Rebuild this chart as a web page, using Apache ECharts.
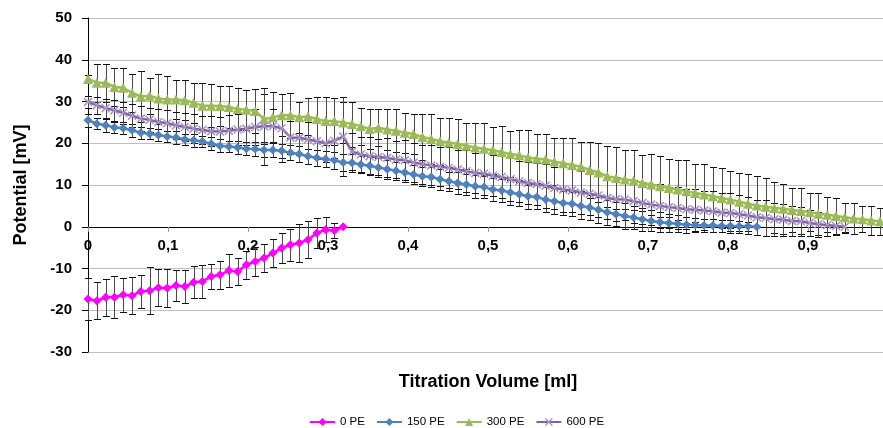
<!DOCTYPE html>
<html>
<head>
<meta charset="utf-8">
<script src="https://cdn.jsdelivr.net/npm/echarts@6/dist/echarts.min.js"></script>
<style>
html,body{margin:0;padding:0;background:#fff;}
#chart{width:883px;height:428px;}
</style>
</head>
<body>
<div id="chart"></div>
<script>
// Titration volume for each measurement step (ml)
const volume = [0,0.011,0.022,0.033,0.044,0.055,0.066,0.077,0.088,0.099,0.11,0.121,0.132,0.143,0.154,0.165,0.176,0.187,0.198,0.209,0.22,0.231,0.242,0.253,0.264,0.275,0.286,0.297,0.308,0.319,0.33,0.341,0.352,0.363,0.374,0.385,0.396,0.407,0.418,0.429,0.44,0.451,0.462,0.473,0.484,0.495,0.506,0.517,0.528,0.539,0.55,0.561,0.572,0.583,0.594,0.605,0.616,0.627,0.638,0.649,0.66,0.671,0.682,0.693,0.704,0.715,0.726,0.737,0.748,0.759,0.77,0.781,0.792,0.803,0.814,0.825,0.836,0.847,0.858,0.869,0.88,0.891,0.902,0.913,0.924,0.935,0.946,0.957,0.968,0.979,0.99];

const seriesNames = ['0 PE', '150 PE', '300 PE', '600 PE'];

const pe0 = [-17.3,-17.7,-16.9,-16.9,-16.3,-16.5,-15.5,-15.3,-14.6,-14.7,-14.1,-14.3,-13.3,-13.1,-11.9,-11.5,-10.5,-10.7,-9.1,-8.3,-7.5,-6.3,-5.1,-4.3,-3.9,-3.1,-1.5,-0.7,-0.9,0];
const pe0Err = [5,4.5,4.5,5,4,4.5,4,5.7,4.5,4.5,3.8,4,3.8,3.9,3,3.3,4,3.3,3.3,3.5,3.4,3.3,3.5,3.8,4.5,4.5,3.5,3,1.9,0];

const pe150 = [25.5,24.7,24.3,23.8,23.6,23.1,22.5,22.3,22.0,21.6,21.4,20.9,20.7,20.4,19.9,19.4,19.2,19.0,18.7,
  18.6,18.4,18.4,18.2,17.7,17.4,16.9,16.5,16.2,15.9,15.4,15.3,14.9,14.6,14.2,13.8,13.4,13.0,12.5,12.1,
  11.9,11.4,10.9,10.5,10.1,9.7,9.5,8.9,8.7,8.2,7.8,7.3,7.1,6.5,6.1,5.7,5.5,5.0,4.6,4.1,
  3.5,3.0,2.6,2.2,1.8,1.4,1.1,0.9,0.7,0.5,0.4,0.3,0.3,0.2,0.2,0.1,0.1,0.0];
const pe150Err = [1.5,1.4,1.5,1.3,1.4,1.5,1.4,1.3,1.5,1.4,1.6,1.4,1.5,1.4,1.6,1.5,1.4,1.6,1.5,
  1.6,1.8,1.7,1.7,1.8,1.9,1.8,2.0,1.9,2.1,2.0,2.2,2.1,2.0,2.2,2.3,2.1,2.4,2.2,2.3,
  2.4,2.5,2.3,2.6,2.5,2.7,2.6,2.8,2.7,2.9,2.8,3.0,2.9,3.0,3.1,2.9,3.0,3.2,3.0,3.1,
  3.0,2.9,3.1,2.8,2.7,2.5,2.4,2.2,2.0,1.9,1.7,1.6,1.5,1.4,1.3,1.2,1.0,0];

const pe300 = [35.4,34.5,34.5,33.5,33.3,32.1,31.2,31.4,30.7,30.5,30.5,30.3,29.7,29.0,29.0,28.9,28.7,28.2,28.0,
  27.7,25.8,26.2,26.7,26.7,26.2,26.4,25.8,25.3,25.3,25.0,24.6,24.1,23.4,23.7,23.3,23.0,22.5,22.2,
  21.5,21.0,20.5,20.2,19.8,19.4,19.0,18.7,18.3,17.9,17.4,17.1,16.6,16.3,16.1,15.6,15.2,14.8,14.4,13.6,13.0,
  12.1,11.7,11.3,11.1,10.5,10.1,9.7,9.3,8.9,8.5,8.1,7.7,7.3,6.9,6.5,6.0,5.5,5.1,4.8,
  4.5,4.3,4.0,3.8,3.5,3.1,2.9,2.6,2.3,2.0,1.8,1.5,1.3];
const pe300Err = [1,4.6,4.6,4.5,4.7,4.6,6.0,4.3,6.0,5.6,4.6,4.8,4.8,5.5,5.1,4.7,5.1,5.1,4.8,
  5.2,6.0,6.0,5.0,5.4,3.8,4.5,5.3,5.8,5.6,5.0,5.4,4.4,4.8,4.4,4.8,5.1,4.8,4.7,5.4,
  5.9,5.6,5.9,6.0,5.5,5.9,6.2,5.6,6.2,5.5,6.0,6.5,5.8,6.0,5.7,6.1,6.5,5.8,6.6,7.1,
  7.3,7.4,7.0,7.2,6.8,7.4,7.3,6.9,7.2,7.6,7.0,7.4,7.0,7.2,6.8,6.9,7.2,7.0,6.9,
  6.1,6.0,5.3,5.5,4.6,5.0,4.2,4.3,3.5,3.8,3.1,3.4,3.2];

const pe600 = [29.9,29.1,28.4,27.9,27.3,26.6,25.9,25.6,25.1,24.8,24.3,23.9,23.5,23.2,22.9,22.8,23.0,23.3,23.5,23.9,24.1,24.1,23.6,
  21.4,21.3,20.9,20.5,20.0,20.6,21.6,18.0,17.3,16.9,16.7,16.5,16.1,15.9,15.4,15.0,
  14.7,14.4,14.1,13.7,13.3,12.9,12.7,12.2,11.9,11.4,10.9,10.5,10.2,9.8,9.3,8.9,8.7,8.2,7.9,7.5,
  6.9,6.6,6.5,6.1,5.7,5.3,5.0,4.7,4.5,4.2,4.1,3.9,3.7,3.4,3.3,3.0,2.7,2.3,2.1,1.8,1.7,1.4,1.3,0.9,0.6,0.4,0.2,0.0];
const pe600Err = [1.5,2.0,2.3,2.5,2.6,2.8,3.0,2.9,3.2,3.1,3.3,3.4,3.5,3.3,3.6,3.5,3.8,3.6,3.9,4.2,9.2,4.0,8.2,
  4.0,4.2,4.1,4.3,4.4,4.2,9.5,4.5,4.3,4.6,4.4,4.7,4.5,4.8,4.6,4.7,
  4.8,4.6,4.9,4.7,5.0,4.8,5.1,4.9,5.0,5.2,4.9,5.1,5.0,5.2,5.0,5.3,5.1,5.2,5.0,5.2,
  5.1,5.3,5.0,5.2,5.1,5.0,5.2,4.9,5.1,4.8,5.0,4.7,4.9,4.6,4.7,4.5,4.4,4.2,4.3,4.0,3.8,3.6,3.5,3.2,3.0,2.6,2.2,1.5];

const yTicks = [-30,-20,-10,0,10,20,30,40,50];
const xTicks = [0,0.1,0.2,0.3,0.4,0.5,0.6,0.7,0.8,0.9];

const colors = ['#FF00FF', '#4F81BD', '#9BBB59', '#8064A2'];
const values = [pe0, pe150, pe300, pe600];
const errors = [pe0Err, pe150Err, pe300Err, pe600Err];
const symbols = ['diamond', 'diamond', 'triangle',
  'path://M0,1.2L1.2,0L5,3.8L8.8,0L10,1.2L6.2,5L10,8.8L8.8,10L5,6.2L1.2,10L0,8.8L3.8,5Z'];
const symbolSizes = [9, 9, 10, 9];
const symbolColors = ['#FF00FF', '#4F81BD', '#9BBB59', '#A693C8'];

// plot area (pixels)
const GRID_TOP = 18, GRID_BOTTOM = 76, CHART_H = 428;
const yMin = yTicks[0], yMax = yTicks[yTicks.length - 1];
const plotH = CHART_H - GRID_TOP - GRID_BOTTOM;
// move the x axis up so it sits on the 0 line (Excel style crossing)
const xAxisOffset = -plotH * (0 - yMin) / (yMax - yMin);

function errRender(params, api) {
  const x = api.value(0), y = api.value(1), e = api.value(2);
  if (!e) return null;
  const t = api.coord([x, y + e]);
  const b = api.coord([x, y - e]);
  const cx = Math.round(t[0]) + 0.5;
  const ty = Math.round(t[1]) + 0.5, by = Math.round(b[1]) + 0.5;
  const w = 3.5;
  return {
    type: 'group',
    children: [
      {type: 'line', shape: {x1: cx, y1: ty, x2: cx, y2: by}, style: {stroke: '#4a4a4a', lineWidth: 1}},
      {type: 'line', shape: {x1: cx - w, y1: ty, x2: cx + w, y2: ty}, style: {stroke: '#111111', lineWidth: 1}},
      {type: 'line', shape: {x1: cx - w, y1: by, x2: cx + w, y2: by}, style: {stroke: '#111111', lineWidth: 1}}
    ]
  };
}

const series = [];
seriesNames.forEach((name, k) => {
  series.push({
    name: 'err' + k,
    type: 'custom',
    renderItem: errRender,
    encode: {x: 0, y: 1},
    data: values[k].map((v, i) => [volume[i], v, errors[k][i]]),
    z: 1,
    silent: true
  });
});
seriesNames.forEach((name, k) => {
  series.push({
    name: name,
    type: 'line',
    data: values[k].map((v, i) => [volume[i], v]),
    symbol: symbols[k],
    symbolSize: symbolSizes[k],
    showAllSymbol: true,
    color: colors[k],
    lineStyle: {color: colors[k], width: 2.5},
    itemStyle: {color: symbolColors[k]},
    z: 2 + k
  });
});

const chart = echarts.init(document.getElementById('chart'));
const bold = {fontFamily: 'Liberation Sans, Arial, sans-serif', fontWeight: 'bold', color: '#000'};
chart.setOption({
  animation: false,
  backgroundColor: '#fff',
  grid: {left: 88, right: -5, top: GRID_TOP, bottom: GRID_BOTTOM, containLabel: false, outerBoundsMode: 'none'},
  legend: {
    data: seriesNames,
    left: 304, top: 411,
    itemWidth: 25, itemHeight: 10, itemGap: 11,
    textStyle: {fontFamily: 'Liberation Sans, Arial, sans-serif', fontSize: 11.5, color: '#000'}
  },
  xAxis: {
    type: 'value', min: 0, max: 1, interval: 0.1,
    position: 'bottom', offset: xAxisOffset,
    name: 'Titration Volume [ml]', nameLocation: 'middle', nameGap: 146,
    nameTextStyle: Object.assign({fontSize: 18}, bold),
    axisLine: {onZero: false, lineStyle: {color: '#000', width: 1}},
    axisTick: {show: true, length: 5, lineStyle: {color: '#999'}},
    splitLine: {show: false},
    axisLabel: Object.assign({
      fontSize: 15, margin: 12, showMaxLabel: false,
      formatter: v => xTicks.includes(Math.round(v * 10) / 10) ? (v === 0 ? '0' : (Math.round(v * 10) / 10).toFixed(1).replace('.', ',')) : ''
    }, bold)
  },
  yAxis: {
    type: 'value', min: yMin, max: yMax, interval: 10,
    name: 'Potential [mV]', nameLocation: 'middle', nameGap: 58, nameRotate: 90,
    nameTextStyle: Object.assign({fontSize: 18}, bold),
    axisLine: {show: true, onZero: false, lineStyle: {color: '#000', width: 1}},
    axisTick: {show: true, length: 6, lineStyle: {color: '#000'}},
    splitLine: {show: true, lineStyle: {color: '#BFBFBF', width: 1}},
    axisLabel: Object.assign({fontSize: 15, margin: 16}, bold)
  },
  series: series
});
</script>
</body>
</html>
